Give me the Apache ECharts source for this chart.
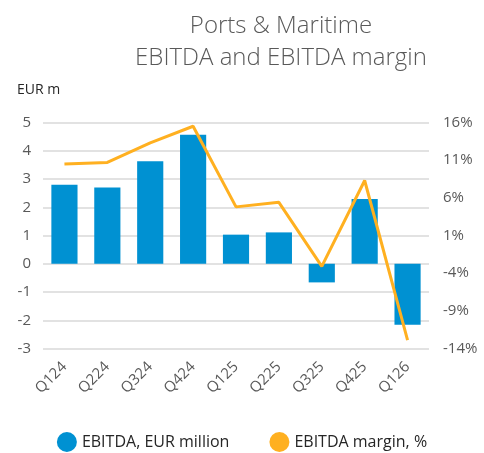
<!DOCTYPE html>
<html>
<head>
<meta charset="utf-8">
<script src="https://cdn.jsdelivr.net/npm/echarts@6/dist/echarts.min.js"></script>
<style>
  html, body { margin: 0; padding: 0; background: #fff; }
  #chart { width: 484px; height: 453px; }
</style>
</head>
<body>
<div id="chart"></div>
<script>
var quarters = ["Q124", "Q224", "Q324", "Q424", "Q125", "Q225", "Q325", "Q425", "Q126"];
var ebitda = [2.8, 2.7, 3.63, 4.57, 1.03, 1.11, -0.66, 2.29, -2.16];
var margin = [10.5, 10.7, 13.3, 15.5, 4.8, 5.4, -3.1, 8.3, -12.9];

var grey = "#595959";
var font = "Open Sans";

var myChart = echarts.init(document.getElementById("chart"));
var option = {
  animation: false,
  title: [
    {
      text: "Ports & Maritime\nEBITDA and EBITDA margin",
      left: 276,
      top: 5,
      textAlign: "center",
      textStyle: { color: grey, fontFamily: font, fontWeight: 300, fontSize: 24, lineHeight: 32 }
    },
    {
      text: "EUR m",
      left: 12,
      top: 78,
      textStyle: { color: "#262626", fontFamily: font, fontWeight: 400, fontSize: 14 }
    }
  ],
  legend: {
    top: 432,
    left: "center",
    padding: 0,
    itemGap: 40,
    itemWidth: 20,
    itemHeight: 20,
    textStyle: { color: "#262626", fontFamily: font, fontSize: 16 },
    data: [
      { name: "EBITDA, EUR million", icon: "circle" },
      { name: "EBITDA margin, %", icon: "circle" }
    ]
  },
  grid: { left: 43, right: 55, top: 122.5, bottom: 104.5, containLabel: false },
  xAxis: {
    type: "category",
    data: quarters,
    axisLine: { show: false },
    axisTick: { show: false },
    axisLabel: { rotate: 45, color: grey, fontFamily: font, fontSize: 15, margin: 16 }
  },
  yAxis: [
    {
      type: "value",
      min: -3,
      max: 5,
      interval: 1,
      axisLabel: { color: grey, fontFamily: font, fontSize: 15, margin: 12 },
      splitLine: { lineStyle: { color: "#d9d9d9", width: 1.5 } }
    },
    {
      type: "value",
      min: -14,
      max: 16,
      interval: 5,
      axisLabel: { color: grey, fontFamily: font, fontSize: 15, margin: 14, formatter: "{value}%" },
      splitLine: { show: false }
    }
  ],
  series: [
    {
      name: "EBITDA, EUR million",
      type: "bar",
      data: ebitda,
      barWidth: "61%",
      itemStyle: { color: "#0091d2" }
    },
    {
      name: "EBITDA margin, %",
      type: "line",
      yAxisIndex: 1,
      data: margin,
      symbol: "none",
      lineStyle: { color: "#ffb020", width: 3 },
      itemStyle: { color: "#ffb020" }
    }
  ]
};
option && myChart.setOption(option);
</script>
</body>
</html>
